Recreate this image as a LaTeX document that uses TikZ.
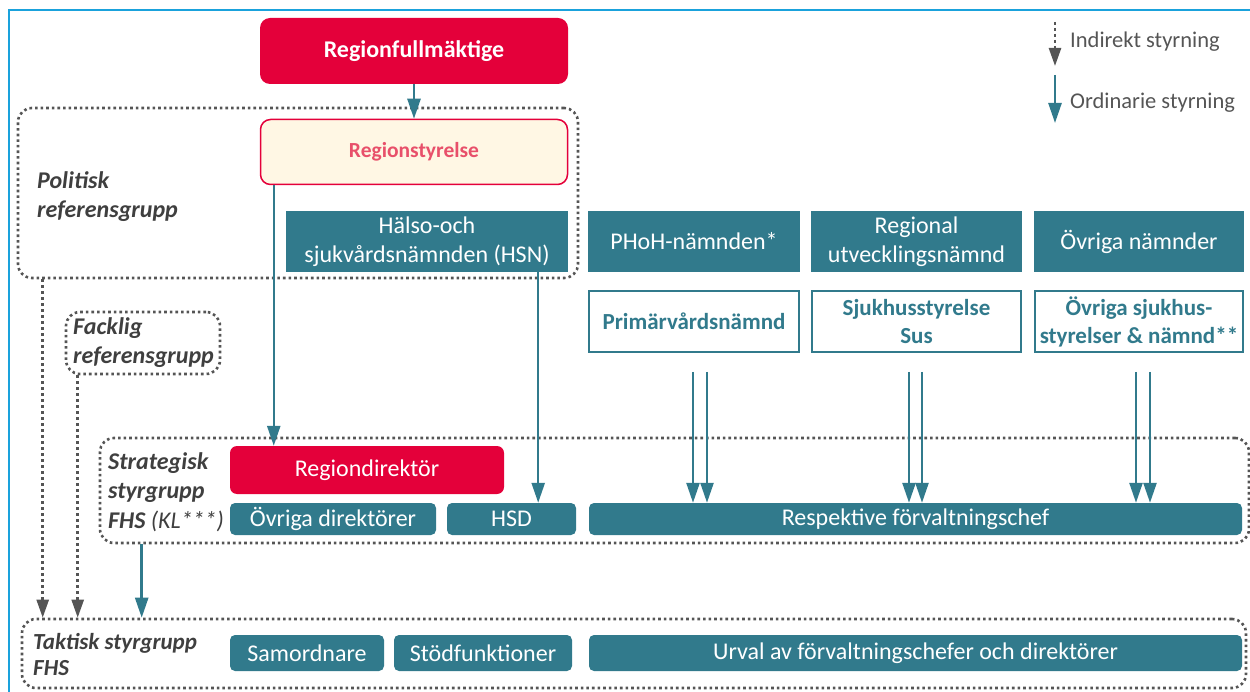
\documentclass[tikz,border=0pt]{standalone}
\usepackage{fontspec}
\setmainfont{Carlito}
\usetikzlibrary{arrows.meta}
\definecolor{tealc}{HTML}{317A8C}
\definecolor{redc}{HTML}{E4003A}
\definecolor{creamc}{HTML}{FFF7E4}
\definecolor{pinkc}{HTML}{E8506A}
\definecolor{grayc}{HTML}{555555}
\definecolor{labc}{HTML}{3F3F3F}
\definecolor{framec}{HTML}{1AA2DC}
\tikzset{
  fs/.style={font=\fontsize{#1}{29}\selectfont},
  tealbox/.style={fill=tealc, text=white, inner sep=0pt, align=center, fs=24},
  roundteal/.style={tealbox, rounded corners=5pt},
  whitebox/.style={draw=tealc, line width=2pt, fill=white, text=tealc, inner sep=0pt, align=center, font=\fontsize{23}{28}\selectfont\bfseries},
  group/.style={draw=grayc, line width=2.6pt, dash pattern=on 2.6pt off 3pt, rounded corners=14pt, inner sep=0pt},
  grplabel/.style={text=labc, align=left, anchor=north west, inner sep=0pt, font=\fontsize{24}{29.5}\selectfont\bfseries\itshape},
  ord/.style={draw=tealc, line width=2.5pt, -{Triangle[width=13pt,length=20pt]}},
  ind/.style={draw=grayc, line width=2.5pt, dash pattern=on 3pt off 3pt, -{Triangle[width=12pt,length=18pt]}},
}
\begin{document}
\begin{tikzpicture}[x=1pt,y=-1pt]
\useasboundingbox (0,0) rectangle (1250,692);
% frame
\draw[framec, line width=2.5pt] (9,692) -- (9,10) -- (1251,10);

% groups
\node[group, minimum width=560pt, minimum height=170pt] (pol) at (298,193) {};
\node[group, minimum width=154pt, minimum height=62pt] (fack) at (143,343) {};
\node[group, minimum width=1149pt, minimum height=105pt] (strat) at (674.5,490.5) {};
\node[group, minimum width=1224pt, minimum height=69pt] (takt) at (634,653.5) {};

\node[grplabel] (polL) at (37,171) {Politisk\\referensgrupp};
\node[grplabel] (fackL) at (73,317) {Facklig\\referensgrupp};
\node[grplabel] (stratL) at (108,452) {Strategisk\\styrgrupp\\FHS {\mdseries(KL***)}};
\node[grplabel, font=\fontsize{23}{26}\selectfont\bfseries\itshape] (taktL) at (33,633) {Taktisk styrgrupp\\FHS};

% top boxes
\node[fill=redc, text=white, rounded corners=10pt, minimum width=308pt, minimum height=66pt, inner sep=0pt, font=\fontsize{24}{29}\selectfont\bfseries] (rf) at (414,51) {Regionfullmäktige};
\node[fill=creamc, draw=redc, line width=1.5pt, text=pinkc, rounded corners=10pt, minimum width=307pt, minimum height=65pt, inner sep=0pt, font=\fontsize{21.5}{26}\selectfont\bfseries] (rs) at (414,152) {Regionstyrelse};

% committees
\node[tealbox, minimum width=282pt, minimum height=61pt] (hsn) at (427,241.5) {Hälso-och\\sjukvårdsnämnden (HSN)};
\node[tealbox, minimum width=212pt, minimum height=61pt] (phoh) at (694,241.5) {PHoH-nämnden*};
\node[tealbox, minimum width=211pt, minimum height=61pt] (run) at (916.5,241.5) {Regional\\utvecklingsnämnd};
\node[tealbox, minimum width=210pt, minimum height=61pt] (ovn) at (1139,241.5) {Övriga nämnder};

\node[whitebox, minimum width=210pt, minimum height=61pt] (prim) at (694,321.5) {Primärvårdsnämnd};
\node[whitebox, minimum width=209pt, minimum height=61pt] (sus) at (916.5,321.5) {Sjukhusstyrelse\\Sus};
\node[whitebox, minimum width=208pt, minimum height=61pt] (ovs) at (1139,321.5) {Övriga sjukhus-\\styrelser \& nämnd**};

% strategic
\node[fill=redc, text=white, rounded corners=7pt, minimum width=274pt, minimum height=48pt, inner sep=0pt, fs=24] (rd) at (367,470) {Regiondirektör};
\node[roundteal, minimum width=206pt, minimum height=32pt] (od) at (333,519) {Övriga direktörer};
\node[roundteal, minimum width=129pt, minimum height=32pt] (hsd) at (511.5,519) {HSD};
\node[roundteal, minimum width=653pt, minimum height=32pt] (rfc) at (915.5,519) {Respektive förvaltningschef};

% tactical
\node[roundteal, minimum width=154pt, minimum height=36pt] (sam) at (307,653) {Samordnare};
\node[roundteal, minimum width=178pt, minimum height=36pt] (stod) at (483,653) {Stödfunktioner};
\node[roundteal, minimum width=653pt, minimum height=36pt] (urv) at (915.5,653) {Urval av förvaltningschefer och direktörer};

% ordinary arrows
\draw[ord] (rf) -- (rs);
\draw[ord] ([xshift=14pt]rs.south west) -- ([xshift=14pt]rs.south west |- rd.north);
\draw[ord] ([xshift=-30pt]hsn.south east) -- ([xshift=-30pt]hsn.south east |- hsd.north);
\foreach \n/\a/\b in {prim/-1/13, sus/-7.5/5.5, ovs/-3/11}{
  \draw[ord] ([xshift=\a pt, yshift=-19pt]\n.south) -- ([xshift=\a pt]\n.south |- rfc.north);
  \draw[ord] ([xshift=\b pt, yshift=-19pt]\n.south) -- ([xshift=\b pt]\n.south |- rfc.north);
}
\draw[ord] ([xshift=43pt]strat.south west) -- ([xshift=43pt]strat.south west |- takt.north);

% indirect arrows
\draw[ind] ([xshift=26pt]pol.south west) -- ([xshift=26pt]pol.south west |- takt.north);
\draw[ind] ([xshift=13pt]fack.south west) -- ([xshift=13pt]fack.south west |- takt.north);

% legend
\coordinate (l1a) at (1055,22);
\coordinate (l1b) at (1055,66);
\coordinate (l2a) at (1055,75);
\coordinate (l2b) at (1055,123);
\draw[ind] (l1a) -- (l1b);
\draw[ord] (l2a) -- (l2b);
\node[anchor=west, text=grayc, inner sep=0pt, fs=22.5] (lt1) at (1070,42) {Indirekt styrning};
\node[anchor=west, text=grayc, inner sep=0pt, fs=22.5] (lt2) at (1070,103) {Ordinarie styrning};
\end{tikzpicture}
\end{document}
